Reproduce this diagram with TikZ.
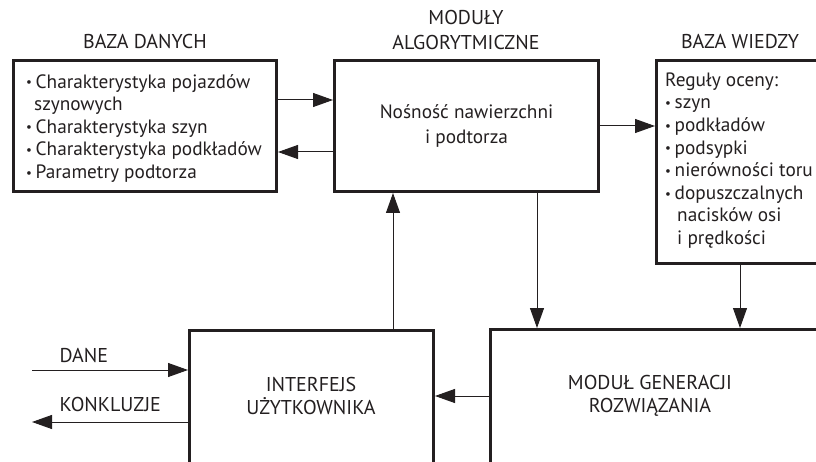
\documentclass[tikz,border=0pt]{standalone}
\usepackage{fontspec}
\setmainfont{PT Sans}
\usetikzlibrary{arrows.meta}
\definecolor{ink}{HTML}{231F20}
\tikzset{
  box/.style={draw=ink,line width=3pt,inner sep=0pt},
  conn/.style={draw=ink,line width=1pt,-{Triangle[length=20pt,width=14pt]}},
  lista/.style={anchor=north west,inner sep=0pt,align=left},
  caps/.style={font=\fontsize{20}{23}\selectfont}
}
\newcommand{\pkt}{\makebox[9.5pt][l]{\raisebox{1.3pt}{\fontsize{13}{13}\selectfont\textbullet}}}
\begin{document}
\begin{tikzpicture}[x=1pt,y=-1pt,
    every node/.style={text=ink,font=\fontsize{19.3}{22.6}\selectfont,align=center}]
  \useasboundingbox (0,0) rectangle (816,462);
  \clip (0,0) rectangle (816,462);
  %% boxes
  \node[box,minimum width=263pt,minimum height=131pt] (dane) at (145,126) {};
  \node[box,minimum width=264pt,minimum height=131pt] (alg) at (466.5,126)
    {Nośność nawierzchni\\[1.8pt]i podtorza};
  \node[box,minimum width=167pt,minimum height=203pt] (wiedza) at (740,162) {};
  \node[box,minimum width=244pt,minimum height=136pt] (ui) at (311.5,398.5) {};
  \node[box,minimum width=340pt,minimum height=136pt] (gen) at (660.5,397.5) {};
  %% titles
  \node[caps] (tdane) at (145,42) {BAZA DANYCH};
  \node[caps] (talg) at (466,30) {MODUŁY\\[2pt]ALGORYTMICZNE};
  \node[caps] (twiedza) at (740,42) {BAZA WIEDZY};
  %% box texts
  \node[lista] (ldane) at (26,74) {\pkt Charakterystyka pojazdów\\
    \hspace*{8pt}szynowych\\ \pkt Charakterystyka szyn\\
    \pkt Charakterystyka podkładów\\ \pkt Parametry podtorza};
  \node[lista] (lwiedza) at (665,72.5) {Reguły oceny:\\ \pkt szyn\\ \pkt podkładów\\
    \pkt podsypki\\ \pkt nierówności toru\\ \pkt dopuszczalnych\\
    \hspace*{12pt}nacisków osi\\ \hspace*{12pt}i prędkości};
  \node[caps] (lui) at (311,395.5) {INTERFEJS\\UŻYTKOWNIKA};
  \node[caps] (lgen) at (650,395.5) {MODUŁ GENERACJI\\ROZWIĄZANIA};
  %% inputs and outputs
  \coordinate (we) at (32,370);
  \coordinate (wy) at (32,422);
  \node[caps,anchor=west] (ldane2) at (56,355) {DANE};
  \node[caps,anchor=west] (lkonk) at (56,404) {KONKLUZJE};
  %% connectors
  \draw[conn] ([yshift=26pt]dane.east) -- ([yshift=26pt]alg.west);
  \draw[conn] ([yshift=-26pt]alg.west) -- ([yshift=-26pt]dane.east);
  \draw[conn] (alg.east) -- (alg.east -| wiedza.west);
  \draw[conn] ([xshift=70.5pt]alg.south) -- ([xshift=70.5pt]alg.south |- gen.north);
  \draw[conn] (wiedza.south) -- (wiedza.south |- gen.north);
  \draw[conn] ([yshift=1.5pt]gen.west) -- ([yshift=1.5pt]gen.west -| ui.east);
  \draw[conn] ([xshift=81.5pt]ui.north) -- ([xshift=81.5pt]ui.north |- alg.south);
  \draw[conn] (we) -- (we -| ui.west);
  \draw[conn] (wy -| ui.west) -- (wy);
\end{tikzpicture}
\end{document}
